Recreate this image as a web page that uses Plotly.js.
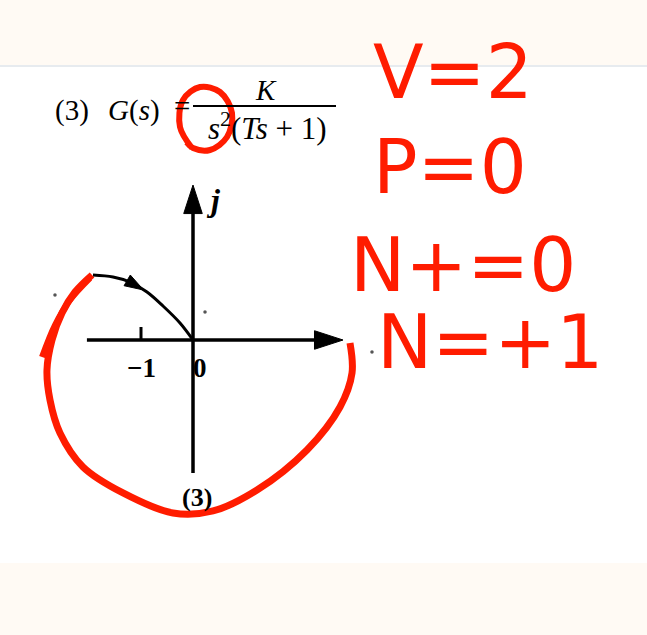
<!DOCTYPE html>
<html>
<head>
<meta charset="utf-8">
<script src="https://cdn.plot.ly/plotly-3.0.1.min.js"></script>
<style>html,body{margin:0;padding:0;background:#fff;}#chart{width:647px;height:635px;}</style>
</head>
<body>
<div id="chart"></div>
<script>
// ---- data (chart units: 1 unit = distance from 0 to -1 on the real axis) ----
const nyqRe = [-1.923, -1.538, -1.212, -0.885, -0.577, -0.25, 0];
const nyqIm = [1.25, 1.212, 1.115, 0.923, 0.654, 0.327, 0];

const loopRe = [-1.942, -2.269, -2.519, -2.712, -2.808, -2.75, -2.558, -2.115, -1.346, -0.385, 0.385, 1.231, 2.192, 2.827, 3.058, 3.019];
const loopIm = [1.25, 0.923, 0.519, 0, -0.577, -1.154, -1.788, -2.442, -2.942, -3.327, -3.288, -2.885, -2.115, -1.288, -0.635, -0.058];

const flourishRe = [-1.981, -2.365, -2.654, -2.904];
const flourishIm = [1.192, 0.769, 0.288, -0.327];

const circleRe = [-0.019, -0.25, -0.192, 0.135, 0.519, 0.75, 0.654, 0.327, 0.0, -0.12];
const circleIm = [3.692, 4.096, 4.615, 4.865, 4.769, 4.365, 3.904, 3.654, 3.692, 3.80];

const dotRe = [-2.654, 0.231, 3.442];
const dotIm = [0.865, 0.538, -0.231];

const realAxisEnds = [-2.04, 2.885];
const imagAxisEnds = [-2.56, 2.98];
const tickValues = [-1, 0];
const tickLabels = ['\u22121', '0'];

const handNotes = ['V=2', 'P=0', 'N+=0', 'N=+1'];
const formulaParts = ['(3)', '<i>G</i>(<i>s</i>)', '=', '<i>K</i>', '<i>s</i><sup>2</sup>(<i>Ts</i> + 1)'];
const figureLabel = '(3)';

// ---- helpers ----
const W = 647, H = 635;
const px = v => v / W;
const py = v => 1 - v / H;
const RED = 'rgb(255,28,0)';
const INK = '#000000';
const serif = 'Liberation Serif, DejaVu Serif, serif';

// arrow position along the Nyquist curve
const k = 2, t = 0.8;
const arrowTipRe = nyqRe[k] + t * (nyqRe[k + 1] - nyqRe[k]);
const arrowTipIm = nyqIm[k] + t * (nyqIm[k + 1] - nyqIm[k]);

const arrowMarker = (s) => ({ symbol: ['circle', 'arrow'], size: [0, s], color: INK, opacity: 1, angleref: 'previous', line: { width: 1, color: INK } });

const traces = [
  { x: loopRe, y: loopIm, mode: 'lines', line: { color: RED, width: 7, shape: 'spline' }, hoverinfo: 'skip' },
  { x: flourishRe, y: flourishIm, mode: 'lines', line: { color: RED, width: 6, shape: 'spline' }, hoverinfo: 'skip' },
  { x: circleRe, y: circleIm, mode: 'lines', line: { color: RED, width: 6, shape: 'spline' }, hoverinfo: 'skip' },
  // real axis with arrow
  { x: realAxisEnds, y: [0, 0], mode: 'lines+markers', line: { color: INK, width: 3.5 }, marker: arrowMarker(30), hoverinfo: 'skip' },
  // imaginary axis with arrow
  { x: [0, 0], y: imagAxisEnds, mode: 'lines+markers', line: { color: INK, width: 3.5 }, marker: arrowMarker(30), hoverinfo: 'skip' },
  // tick at -1
  { x: [tickValues[0], tickValues[0]], y: [0, 0.25], mode: 'lines', line: { color: INK, width: 3 }, hoverinfo: 'skip' },
  // Nyquist curve
  { x: nyqRe, y: nyqIm, mode: 'lines', line: { color: INK, width: 3, shape: 'spline' }, hoverinfo: 'skip' },
  // arrow on curve
  { x: [nyqRe[k], arrowTipRe], y: [nyqIm[k], arrowTipIm], mode: 'markers', marker: arrowMarker(20), hoverinfo: 'skip' },
  // stray dots
  { x: dotRe, y: dotIm, mode: 'markers', marker: { color: '#555', size: 3.5 }, hoverinfo: 'skip' }
];

function note(x, y, text, font) {
  return { xref: 'paper', yref: 'paper', x: px(x), y: py(y), xanchor: 'center', yanchor: 'middle', text: text, showarrow: false, font: font };
}
const fFormula = { family: serif, size: 29, color: INK };
const fLabel = { family: serif, size: 27, color: INK, weight: 'bold' };
const fHand = { family: 'DejaVu Sans', size: 74, color: RED };

const annotations = [
  // formula
  note(72, 110, formulaParts[0], fFormula),
  note(134, 110, formulaParts[1], fFormula),
  note(182, 106, formulaParts[2], fFormula),
  note(266, 90, formulaParts[3], fFormula),
  note(267, 127, formulaParts[4], { family: serif, size: 31, color: INK }),
  // axis labels
  note(213, 200, '<i>j</i>', { family: serif, size: 32, color: INK, weight: 'bold' }),
  { xref: 'x', yref: 'y', x: tickValues[0], y: 0, yshift: -28, xanchor: 'center', yanchor: 'middle', text: tickLabels[0], showarrow: false, font: fLabel },
  { xref: 'x', yref: 'y', x: tickValues[1], y: 0, xshift: 7, yshift: -28, xanchor: 'center', yanchor: 'middle', text: tickLabels[1], showarrow: false, font: fLabel },
  note(197, 497, figureLabel, { family: serif, size: 26, color: INK, weight: 'bold' }),
  // handwriting
  note(453, 72, handNotes[0], fHand),
  note(450, 167, handNotes[1], fHand),
  note(463, 265, handNotes[2], fHand),
  note(490, 342, handNotes[3], fHand)
];

const shapes = [
  { type: 'rect', xref: 'paper', yref: 'paper', x0: 0, x1: 1, y0: py(65), y1: 1, fillcolor: '#fffaf4', line: { width: 0 }, layer: 'below' },
  { type: 'line', xref: 'paper', yref: 'paper', x0: 0, x1: 1, y0: py(66), y1: py(66), line: { color: '#dfe4ea', width: 1.5 }, layer: 'below' },
  { type: 'rect', xref: 'paper', yref: 'paper', x0: 0, x1: 1, y0: 0, y1: py(563), fillcolor: '#fffaf4', line: { width: 0 }, layer: 'below' },
  // fraction bar
  { type: 'line', xref: 'paper', yref: 'paper', x0: px(193), x1: px(336), y0: py(106), y1: py(106), line: { color: INK, width: 2 } }
];

const layout = {
  width: W, height: H,
  margin: { l: 0, r: 0, t: 0, b: 0 },
  paper_bgcolor: '#ffffff', plot_bgcolor: 'rgba(0,0,0,0)',
  showlegend: false,
  xaxis: { range: [-193 / 52, 454 / 52], visible: false, fixedrange: true },
  yaxis: { range: [-295 / 52, 340 / 52], visible: false, fixedrange: true },
  annotations: annotations,
  shapes: shapes
};

Plotly.newPlot('chart', traces, layout, { staticPlot: true, displayModeBar: false });
</script>
</body>
</html>
